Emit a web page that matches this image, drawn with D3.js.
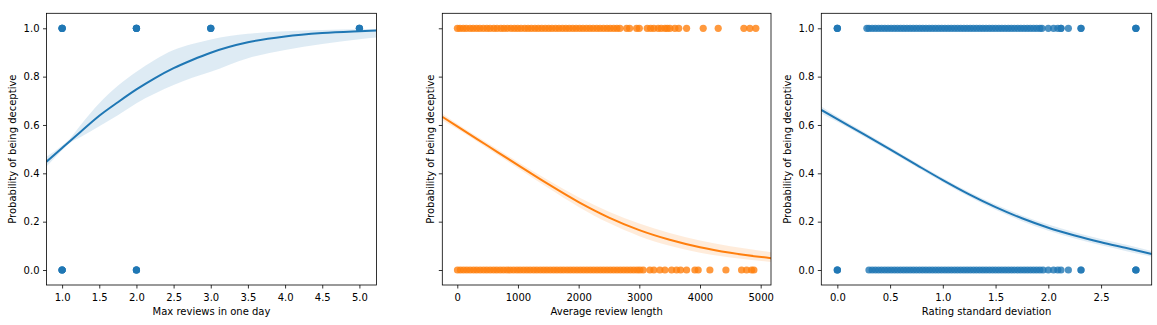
<!DOCTYPE html>
<html>
<head>
<meta charset="utf-8">
<script src="https://cdnjs.cloudflare.com/ajax/libs/d3/7.8.5/d3.min.js"></script>
<style>
  html, body { margin: 0; padding: 0; background: #fff; }
  svg { display: block; }
  text { font-family: "DejaVu Sans", sans-serif; font-size: 10px; fill: #000; }
</style>
</head>
<body>
<div id="chart"></div>
<script>
// ---------------- DATA ----------------
const yLabel = "Probability of being deceptive";
const yTicks = [0.0, 0.2, 0.4, 0.6, 0.8, 1.0];

// Panel 1: Max reviews in one day (repeated values = overlapping observations)
const maxRevLabel = "Max reviews in one day";
const maxRevTicks = [1.0, 1.5, 2.0, 2.5, 3.0, 3.5, 4.0, 4.5, 5.0];
const maxRevDeceptive = [1, 1, 1, 1, 2, 2, 2, 2, 3, 3, 3, 5, 5, 5];
const maxRevTruthful = [1, 1, 1, 1, 2, 2, 2, 2];
const maxRevCurveX = [0.79, 1.0, 1.1, 1.25, 1.5, 1.75, 2.0, 2.25, 2.5, 2.75, 3.0, 3.5, 4.0, 4.5, 5.0, 5.23];
const maxRevCurveY = [0.448, 0.505, 0.532, 0.572, 0.638, 0.694, 0.747, 0.794, 0.835, 0.869, 0.899, 0.942, 0.966, 0.980, 0.988, 0.991];
const maxRevUpper  = [0.469, 0.515, 0.542, 0.600, 0.690, 0.762, 0.820, 0.870, 0.910, 0.935, 0.954, 0.977, 0.988, 0.993, 0.996, 0.997];
const maxRevLower  = [0.428, 0.495, 0.524, 0.550, 0.595, 0.640, 0.690, 0.730, 0.765, 0.795, 0.820, 0.876, 0.910, 0.935, 0.955, 0.962];

// Panel 2: Average review length
const lenLabel = "Average review length";
const lenTicks = [0, 1000, 2000, 3000, 4000, 5000];
const lenDeceptive = [2, 45, 98, 150, 210, 262, 318, 371, 430, 488, 540, 602, 655, 718, 770, 826, 884, 941, 995, 1050,
  1112, 1166, 1221, 1280, 1335, 1392, 1450, 1506, 1561, 1620, 1675, 1733, 1790, 1845, 1903, 1958, 2015, 2071, 2128,
  2184, 2240, 2298, 2352, 2410, 2466, 2520, 2577, 2630, 2680,
  2791, 2840, 2955, 3000, 3130, 3186, 3240, 3311, 3360, 3422, 3460, 3504, 3586, 3650, 3779, 4053, 4300, 4723, 4822, 4920];
const lenTruthful = [3, 52, 105, 158, 212, 268, 321, 377, 433, 487, 542, 598, 651, 707, 762, 818, 871, 927, 983, 1036,
  1092, 1147, 1201, 1258, 1312, 1368, 1423, 1477, 1532, 1588, 1642, 1698, 1752, 1808, 1862, 1917, 1972, 2027, 2082,
  2137, 2192, 2247, 2302, 2357, 2412, 2467, 2522, 2577, 2632, 2687, 2742, 2797, 2852, 2907, 2962, 3010,
  3064, 3175, 3240, 3339, 3422, 3532, 3614, 3680, 3779, 3916, 3970, 4163, 4427, 4685, 4768, 4850, 4888];
const lenCurveX = [-247, 0, 500, 1000, 1500, 2000, 2500, 3000, 3500, 4000, 4500, 5170];
const lenCurveY = [0.634, 0.594, 0.514, 0.434, 0.355, 0.281, 0.217, 0.165, 0.125, 0.094, 0.071, 0.049];
const lenUpper  = [0.648, 0.605, 0.525, 0.447, 0.371, 0.301, 0.241, 0.192, 0.153, 0.122, 0.098, 0.074];
const lenLower  = [0.620, 0.583, 0.503, 0.421, 0.339, 0.261, 0.194, 0.140, 0.100, 0.071, 0.052, 0.033];

// Panel 3: Rating standard deviation
const sdLabel = "Rating standard deviation";
const sdTicks = [0.0, 0.5, 1.0, 1.5, 2.0, 2.5];
const sdDeceptive = [0.0, 0.0, 0.0, 0.28, 0.30, 0.33, 0.36, 0.39, 0.42, 0.45, 0.48, 0.51, 0.54, 0.57, 0.60, 0.63, 0.66, 0.69,
  0.72, 0.75, 0.78, 0.81, 0.84, 0.87, 0.90, 0.93, 0.96, 0.99, 1.02, 1.05, 1.08, 1.11, 1.14, 1.17, 1.20, 1.23, 1.26,
  1.29, 1.32, 1.35, 1.38, 1.41, 1.44, 1.47, 1.50, 1.53, 1.56, 1.59, 1.62, 1.65, 1.68, 1.71, 1.74, 1.77, 1.80, 1.83,
  1.86, 1.89, 1.92, 1.94, 2.00, 2.05, 2.09, 2.12, 2.12, 2.19, 2.31, 2.31, 2.83, 2.83, 2.83];
const sdTruthful = [0.0, 0.0, 0.0, 0.30, 0.33, 0.36, 0.39, 0.42, 0.45, 0.48, 0.51, 0.54, 0.57, 0.60, 0.63, 0.66, 0.69,
  0.72, 0.75, 0.78, 0.81, 0.84, 0.87, 0.90, 0.93, 0.96, 0.99, 1.02, 1.05, 1.08, 1.11, 1.14, 1.17, 1.20, 1.23, 1.26,
  1.29, 1.32, 1.35, 1.38, 1.41, 1.44, 1.47, 1.50, 1.53, 1.56, 1.59, 1.62, 1.65, 1.68, 1.71, 1.74, 1.77, 1.80, 1.83,
  1.86, 1.89, 1.92, 1.95, 2.00, 2.05, 2.09, 2.12, 2.19, 2.31, 2.31, 2.83, 2.83, 2.83];
const sdCurveX = [-0.152, 0.0, 0.25, 0.5, 0.75, 1.0, 1.25, 1.5, 1.75, 2.0, 2.25, 2.5, 2.75, 2.98];
const sdCurveY = [0.662, 0.624, 0.562, 0.499, 0.435, 0.372, 0.313, 0.260, 0.214, 0.175, 0.143, 0.115, 0.090, 0.066];
const sdUpper  = [0.676, 0.635, 0.572, 0.508, 0.444, 0.381, 0.323, 0.271, 0.226, 0.188, 0.156, 0.128, 0.103, 0.079];
const sdLower  = [0.648, 0.613, 0.552, 0.490, 0.426, 0.363, 0.303, 0.249, 0.202, 0.162, 0.130, 0.102, 0.077, 0.055];

const blue = "#1f77b4", orange = "#ff7f0e";

// ---------------- LAYOUT ----------------
const W = 1157, H = 325;
const plotTop = 13.3, plotBottom = 285;
const panels = [
  { left: 46.5, right: 376.5, domain: [0.79, 5.23], ticks: maxRevTicks, fmt: d3.format(".1f"), xlabel: maxRevLabel,
    dec: maxRevDeceptive, tru: maxRevTruthful, cx: maxRevCurveX, cy: maxRevCurveY, up: maxRevUpper, lo: maxRevLower,
    color: blue, yLabels: true, ylabX: 15.5 },
  { left: 442.3, right: 771, domain: [-247, 5170], ticks: lenTicks, fmt: d3.format("d"), xlabel: lenLabel,
    dec: lenDeceptive, tru: lenTruthful, cx: lenCurveX, cy: lenCurveY, up: lenUpper, lo: lenLower,
    color: orange, yLabels: false, ylabX: 434 },
  { left: 821.3, right: 1151.7, domain: [-0.152, 2.98], ticks: sdTicks, fmt: d3.format(".1f"), xlabel: sdLabel,
    dec: sdDeceptive, tru: sdTruthful, cx: sdCurveX, cy: sdCurveY, up: sdUpper, lo: sdLower,
    color: blue, yLabels: true, ylabX: 790.5 }
];

const svg = d3.select("#chart").append("svg").attr("width", W).attr("height", H);
const y = d3.scaleLinear().domain([-0.062, 1.062]).range([plotBottom, plotTop]);

panels.forEach((p, i) => {
  const x = d3.scaleLinear().domain(p.domain).range([p.left, p.right]);
  const clipId = "clip" + i;
  svg.append("clipPath").attr("id", clipId).append("rect")
    .attr("x", p.left).attr("y", plotTop).attr("width", p.right - p.left).attr("height", plotBottom - plotTop);

  const g = svg.append("g").attr("clip-path", `url(#${clipId})`);

  // scatter
  const pts = p.dec.map(v => ({ x: v, y: 1 })).concat(p.tru.map(v => ({ x: v, y: 0 })));
  g.selectAll("circle").data(pts).enter().append("circle")
    .attr("cx", d => x(d.x)).attr("cy", d => y(d.y)).attr("r", 3.6)
    .attr("fill", p.color).attr("fill-opacity", 0.8);

  // confidence band
  const band = p.cx.map((v, k) => ({ x: v, lo: p.lo[k], up: p.up[k] }));
  g.append("path").datum(band)
    .attr("d", d3.area().x(d => x(d.x)).y0(d => y(d.lo)).y1(d => y(d.up)).curve(d3.curveMonotoneX))
    .attr("fill", p.color).attr("fill-opacity", 0.15).attr("stroke", "none");

  // regression line
  const line = p.cx.map((v, k) => ({ x: v, y: p.cy[k] }));
  g.append("path").datum(line)
    .attr("d", d3.line().x(d => x(d.x)).y(d => y(d.y)).curve(d3.curveMonotoneX))
    .attr("fill", "none").attr("stroke", p.color).attr("stroke-width", 2);

  // x axis
  const xa = svg.append("g").attr("transform", `translate(0,${plotBottom})`)
    .call(d3.axisBottom(x).tickValues(p.ticks).tickFormat(p.fmt).tickSize(3.5).tickPadding(5).tickSizeOuter(0));
  xa.select(".domain").remove();
  xa.selectAll(".tick line").attr("stroke", "#000").attr("stroke-width", 0.8);
  xa.selectAll("text").attr("font-family", "DejaVu Sans").attr("font-size", 10).attr("fill", "#000");

  // y axis
  const ya = svg.append("g").attr("transform", `translate(${p.left},0)`)
    .call(d3.axisLeft(y).tickValues(yTicks).tickFormat(p.yLabels ? d3.format(".1f") : () => "")
      .tickSize(3.5).tickPadding(3.5).tickSizeOuter(0));
  ya.select(".domain").remove();
  ya.selectAll(".tick line").attr("stroke", "#000").attr("stroke-width", 0.8);
  ya.selectAll("text").attr("font-family", "DejaVu Sans").attr("font-size", 10).attr("fill", "#000");

  // frame
  svg.append("rect").attr("x", p.left).attr("y", plotTop).attr("width", p.right - p.left).attr("height", plotBottom - plotTop)
    .attr("fill", "none").attr("stroke", "#000").attr("stroke-width", 0.8);

  // labels
  svg.append("text").attr("x", (p.left + p.right) / 2).attr("y", 315.3).attr("text-anchor", "middle").text(p.xlabel);
  svg.append("text").attr("transform", `translate(${p.ylabX},${(plotTop + plotBottom) / 2}) rotate(-90)`)
    .attr("text-anchor", "middle").text(yLabel);
});
</script>
</body>
</html>
